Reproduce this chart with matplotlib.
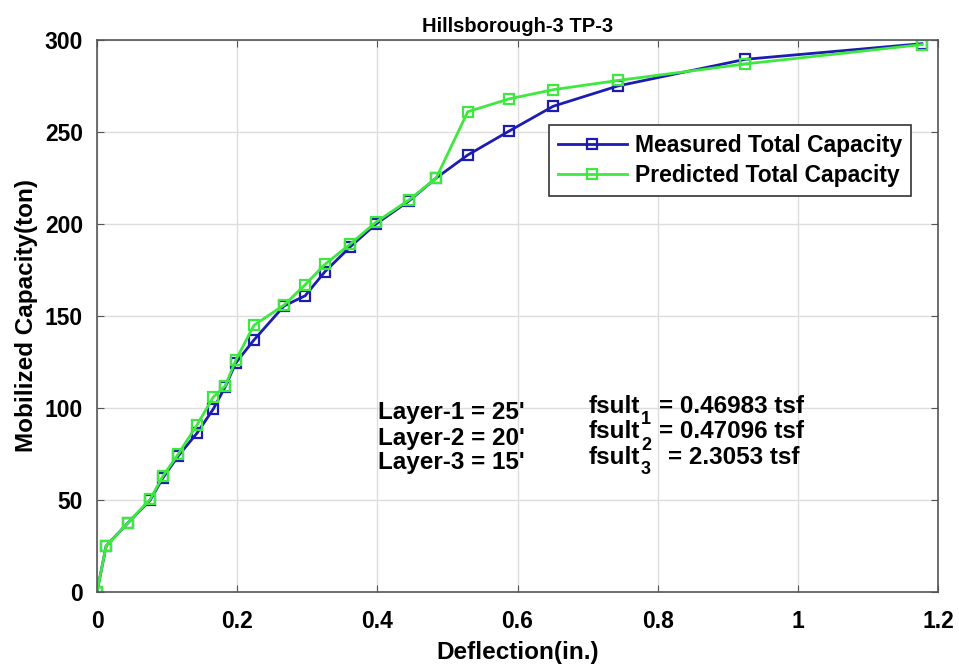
import numpy as np
import matplotlib
matplotlib.use('Agg')
import matplotlib.pyplot as plt

plt.rcParams['font.family'] = ['Liberation Sans', 'DejaVu Sans']
plt.rcParams['font.weight'] = 'bold'

# deflection (in.)
deflection = [0.0, 0.013, 0.044, 0.076, 0.094, 0.116, 0.143, 0.166, 0.183, 0.198,
              0.224, 0.267, 0.297, 0.325, 0.361, 0.398, 0.445, 0.484, 0.529, 0.588,
              0.651, 0.743, 0.925, 1.177]
measured = [0, 25, 37.5, 50, 62, 74, 86.5, 99.5, 111.5, 124.5, 137, 155.5, 161, 174,
            187.5, 200, 212.5, 225, 237.5, 250.5, 264, 275, 289.5, 298]
predicted = [0, 25, 37.5, 50.5, 63, 75, 91, 106, 112, 126, 145, 156, 167, 178,
             189, 201, 213, 225, 261, 268, 273, 278, 287, 297.5]

layer_text = ["Layer-1 = 25'", "Layer-2 = 20'", "Layer-3 = 15'"]
fsult_sub = ['1', '2', '3']
fsult_val = ["= 0.46983 tsf", "= 0.47096 tsf", "= 2.3053 tsf"]

W, H = 959, 668
def px(x, y):
    return x / W, 1 - y / H

fig = plt.figure(figsize=(W/100, H/100), dpi=100)
ax = fig.add_axes([97/W, 1-592/H, (938-97)/W, (592-40)/H])

blue = '#1c1cb0'
green = '#3ee83e'
ax.plot(deflection, measured, '-s', color=blue, lw=2, ms=6.5, mfc='none', mew=1.6,
        label='Measured Total Capacity')
ax.plot(deflection, predicted, '-s', color=green, lw=2, ms=6.5, mfc='none', mew=1.6,
        label='Predicted Total Capacity')

ax.set_xlim(0, 1.2)
ax.set_ylim(0, 300)
ax.set_xticks(np.arange(0, 1.21, 0.2))
ax.set_xticklabels(['0', '0.2', '0.4', '0.6', '0.8', '1', '1.2'])
ax.set_yticks(np.arange(0, 301, 50))
ax.grid(True, color='#dddddd', lw=1)
ax.set_axisbelow(True)
ax.tick_params(direction='in', top=True, right=True, labelsize=16.5, length=5,
               color='#555555')
ax.tick_params(axis='x', pad=13)
ax.tick_params(axis='y', pad=10)
for s in ax.spines.values():
    s.set_color('#555555')
    s.set_linewidth(1.2)

ax.set_title('Hillsborough-3 TP-3', fontsize=14.5, fontweight='bold', pad=6)
ax.set_xlabel('Deflection(in.)', fontsize=17.5, fontweight='bold', labelpad=6)
ax.set_ylabel('Mobilized Capacity(ton)', fontsize=17.5, fontweight='bold', labelpad=5)

leg = ax.legend(loc='upper right', bbox_to_anchor=px(911, 125),
                bbox_transform=fig.transFigure, fontsize=16.5, fancybox=False,
                edgecolor='#333333', framealpha=1, handlelength=3.0,
                borderpad=0.4, labelspacing=0.3, handletextpad=0.35,
                borderaxespad=0)
leg.get_frame().set_linewidth(1.2)

for i, t in enumerate(layer_text):
    fig.text(*px(378, 413 + 25*i), t, fontsize=17.5, fontweight='bold', va='center')
for i in range(3):
    y = 407 + 25*i
    fig.text(*px(589, y), 'fsult', fontsize=17.5, fontweight='bold', va='center')
    fig.text(*px(641, y + 13), fsult_sub[i], fontsize=13, fontweight='bold',
             va='center')
    fig.text(*px(659 + (9 if i == 2 else 0), y), fsult_val[i], fontsize=17.5,
             fontweight='bold', va='center')

fig.savefig('out.png', dpi=100)
